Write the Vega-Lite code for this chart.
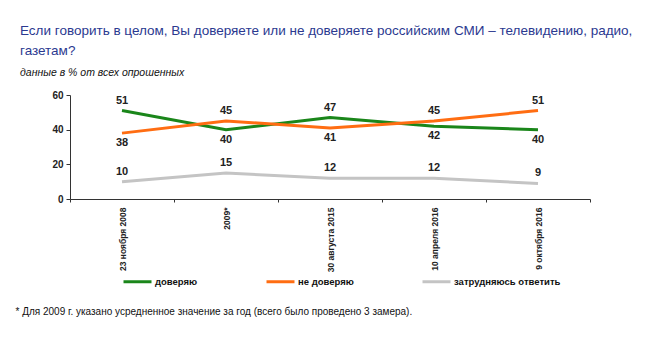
{
  "$schema": "https://vega.github.io/schema/vega-lite/v6.json",
  "autosize": "none",
  "width": 520,
  "height": 104,
  "padding": {"left": 70, "top": 95, "right": 61, "bottom": 155},
  "background": "white",
  "config": {
    "view": {"stroke": null},
    "font": "Liberation Sans, Arial, sans-serif"
  },
  "title": {
    "text": ["Если говорить в целом, Вы доверяете или не доверяете российским СМИ – телевидению, радио,", "газетам?"],
    "subtitle": "данные в % от всех опрошенных",
    "anchor": "start",
    "frame": "group",
    "dx": -50,
    "offset": 12,
    "fontSize": 13.5,
    "fontWeight": "normal",
    "color": "#2b3990",
    "lineHeight": 20,
    "subtitleFontSize": 10.5,
    "subtitleFontStyle": "italic",
    "subtitleColor": "#111111",
    "subtitlePadding": 10
  },
  "data": {
    "values": [
      {"date": "23 ноября 2008", "series": "доверяю", "value": 51},
      {"date": "2009*", "series": "доверяю", "value": 40},
      {"date": "30 августа 2015", "series": "доверяю", "value": 47},
      {"date": "10 апреля 2016", "series": "доверяю", "value": 42},
      {"date": "9 октября 2016", "series": "доверяю", "value": 40},
      {"date": "23 ноября 2008", "series": "не доверяю", "value": 38},
      {"date": "2009*", "series": "не доверяю", "value": 45},
      {"date": "30 августа 2015", "series": "не доверяю", "value": 41},
      {"date": "10 апреля 2016", "series": "не доверяю", "value": 45},
      {"date": "9 октября 2016", "series": "не доверяю", "value": 51},
      {"date": "23 ноября 2008", "series": "затрудняюсь ответить", "value": 10},
      {"date": "2009*", "series": "затрудняюсь ответить", "value": 15},
      {"date": "30 августа 2015", "series": "затрудняюсь ответить", "value": 12},
      {"date": "10 апреля 2016", "series": "затрудняюсь ответить", "value": 12},
      {"date": "9 октября 2016", "series": "затрудняюсь ответить", "value": 9}
    ]
  },
  "transform": [
    {"joinaggregate": [{"op": "max", "field": "value", "as": "maxv"}], "groupby": ["date"]}
  ],
  "encoding": {
    "x": {
      "field": "date",
      "type": "ordinal",
      "sort": ["23 ноября 2008", "2009*", "30 августа 2015", "10 апреля 2016", "9 октября 2016"],
      "scale": {"type": "band", "paddingInner": 0, "paddingOuter": 0},
      "bandPosition": 0.5,
      "axis": {
        "tickBand": "extent",
        "labelAngle": -90,
        "labelFontSize": 8.5,
        "labelFontWeight": "bold",
        "labelColor": "#222222",
        "labelPadding": 5,
        "tickSize": 3,
        "domainColor": "#333333",
        "tickColor": "#333333",
        "title": "*  Для 2009 г. указано усредненное значение за год (всего было проведено 3 замера).",
        "titleAnchor": "start",
        "titleAlign": "left",
        "titleBaseline": "middle",
        "titleX": -55,
        "titleY": 112,
        "titleFontSize": 10,
        "titleFontWeight": "normal",
        "titleColor": "#111111"
      }
    },
    "y": {
      "field": "value",
      "type": "quantitative",
      "scale": {"domain": [0, 60], "nice": false},
      "axis": {
        "values": [0, 20, 40, 60],
        "grid": false,
        "title": null,
        "labelFontSize": 10,
        "labelFontWeight": "bold",
        "labelColor": "#222222",
        "tickSize": 4,
        "domainColor": "#333333",
        "tickColor": "#333333",
        "labelPadding": 3
      }
    }
  },
  "layer": [
    {
      "mark": {"type": "line", "strokeWidth": 3},
      "encoding": {
        "color": {
          "field": "series",
          "type": "nominal",
          "sort": ["доверяю", "не доверяю", "затрудняюсь ответить"],
          "scale": {"domain": ["доверяю", "не доверяю", "затрудняюсь ответить"], "range": ["#1a861a", "#ff6d12", "#c4c4c4"]},
          "legend": {
            "title": null,
            "orient": "none",
            "direction": "horizontal",
            "legendX": 52,
            "legendY": 171,
            "symbolType": "stroke",
            "symbolSize": 784,
            "symbolStrokeWidth": 3,
            "columnPadding": 62,
            "labelFontSize": 9.5,
            "labelFontWeight": "bold",
            "labelColor": "#111111",
            "labelOffset": 2
          }
        }
      }
    },
    {
      "transform": [{"filter": "datum.value == datum.maxv || datum.series == 'затрудняюсь ответить'"}],
      "mark": {"type": "text", "dy": -10, "fontSize": 11, "fontWeight": "bold", "color": "#222222", "baseline": "middle"},
      "encoding": {"text": {"field": "value", "type": "quantitative"}}
    },
    {
      "transform": [{"filter": "!(datum.value == datum.maxv || datum.series == 'затрудняюсь ответить')"}],
      "mark": {"type": "text", "dy": 10, "fontSize": 11, "fontWeight": "bold", "color": "#222222", "baseline": "middle"},
      "encoding": {"text": {"field": "value", "type": "quantitative"}}
    }
  ]
}
